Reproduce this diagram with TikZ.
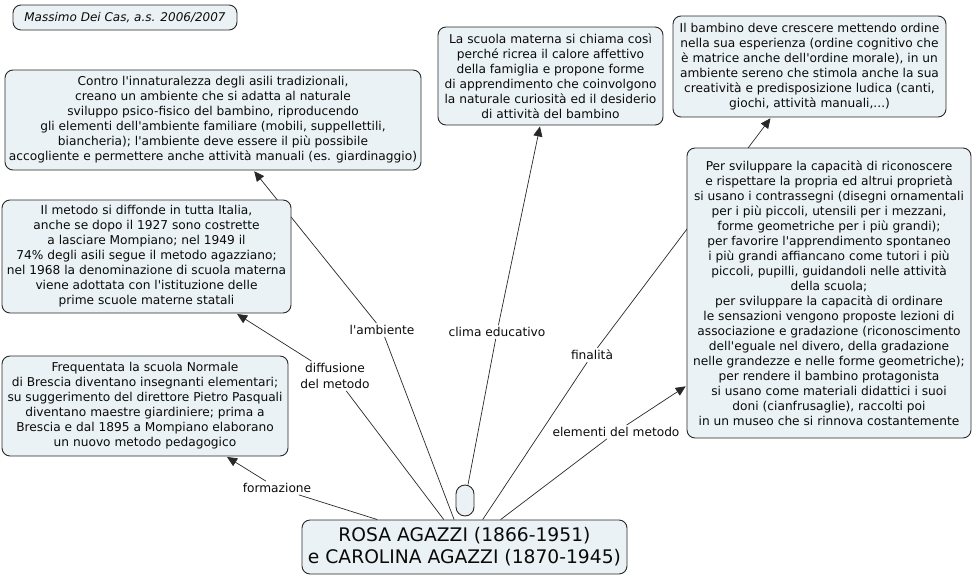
\documentclass[tikz,border=0pt]{standalone}
\usepackage{fontspec}
\setmainfont{DejaVu Sans}[Ligatures=TeXOff]
\usetikzlibrary{arrows.meta,backgrounds}
\definecolor{boxfill}{RGB}{235,242,245}
\definecolor{boxline}{RGB}{40,40,40}
\definecolor{txt}{RGB}{10,10,10}
\tikzset{
  concept/.style={draw=boxline, fill=boxfill, rounded corners=8pt, line width=0.9pt,
    align=center, text=txt, inner sep=2pt,
    font=\fontsize{12.2}{15}\selectfont},
  linklabel/.style={align=center, text=txt, inner sep=2pt,
    font=\fontsize{12.2}{16}\selectfont},
  conn/.style={draw=boxline, line width=0.7pt},
  arr/.style={conn, -{Triangle[length=10pt,width=9pt]}, shorten >=1pt},
}
\begin{document}
\begin{tikzpicture}[x=1pt,y=-1pt]
\useasboundingbox (0,0) rectangle (975,576);

% concepts
\node[concept, minimum width=224pt, minimum height=25pt, font=\fontsize{12}{14}\selectfont\itshape] (author) at (125,17.5) {Massimo Dei Cas, a.s. 2006/2007};

\node[concept, minimum width=416pt, minimum height=100pt] (amb) at (213,120) {Contro l'innaturalezza degli asili tradizionali,\\ creano un ambiente che si adatta al naturale\\ sviluppo psico-fisico del bambino, riproducendo\\ gli elementi dell'ambiente familiare (mobili, suppellettili,\\ biancheria); l'ambiente deve essere il più possibile\\ accogliente e permettere anche attività manuali (es. giardinaggio)};

\node[concept, minimum width=289pt, minimum height=113pt] (diff) at (146.5,256.5) {Il metodo si diffonde in tutta Italia,\\ anche se dopo il 1927 sono costrette\\ a lasciare Mompiano; nel 1949 il\\ 74\% degli asili segue il metodo agazziano;\\ nel 1968 la denominazione di scuola materna\\ viene adottata con l'istituzione delle\\ prime scuole materne statali};

\node[concept, minimum width=286pt, minimum height=100pt] (form) at (145,406) {Frequentata la scuola Normale\\ di Brescia diventano insegnanti elementari;\\ su suggerimento del direttore Pietro Pasquali\\ diventano maestre giardiniere; prima a\\ Brescia e dal 1895 a Mompiano elaborano\\ un nuovo metodo pedagogico};

\node[concept, minimum width=225pt, minimum height=98pt] (clima) at (550.5,76) {La scuola materna si chiama così\\ perché ricrea il calore affettivo\\ della famiglia e propone forme\\ di apprendimento che coinvolgono\\ la naturale curiosità ed il desiderio\\ di attività del bambino};

\node[concept, minimum width=273pt, minimum height=101pt] (fin) at (809.5,66.5) {Il bambino deve crescere mettendo ordine\\ nella sua esperienza (ordine cognitivo che\\ è matrice anche dell'ordine morale), in un\\ ambiente sereno che stimola anche la sua\\ creatività e predisposizione ludica (canti,\\ giochi, attività manuali,...)};

\node[concept, minimum width=284pt, minimum height=290pt] (elem) at (829,293) {Per sviluppare la capacità di riconoscere\\ e rispettare la propria ed altrui proprietà\\ si usano i contrassegni (disegni ornamentali\\ per i più piccoli, utensili per i mezzani,\\ forme geometriche per i più grandi);\\ per favorire l'apprendimento spontaneo\\ i più grandi affiancano come tutori i più\\ piccoli, pupilli, guidandoli nelle attività\\ della scuola;\\ per sviluppare la capacità di ordinare\\ le sensazioni vengono proposte lezioni di\\ associazione e gradazione (riconoscimento\\ dell'eguale nel divero, della gradazione\\ nelle grandezze e nelle forme geometriche);\\ per rendere il bambino protagonista\\ si usano come materiali didattici i suoi\\ doni (cianfrusaglie), raccolti poi\\ in un museo che si rinnova costantemente};

\node[concept, minimum width=325pt, minimum height=54pt, font=\fontsize{18.7}{22}\selectfont] (main) at (464.5,547) {ROSA AGAZZI (1866-1951)\\ e CAROLINA AGAZZI (1870-1945)};

\node[concept, rounded corners=9pt, minimum width=18pt, minimum height=31pt, inner sep=0pt] (pill) at (465,500.5) {};

% link labels
\node[linklabel] (lform) at (277,488) {formazione};
\node[linklabel] (ldiff) at (335,376) {diffusione\\ del metodo};
\node[linklabel] (lamb) at (382,330) {l'ambiente};
\node[linklabel] (lclima) at (497,332) {clima educativo};
\node[linklabel] (lfin) at (592,355) {finalità};
\node[linklabel] (lelem) at (616,432) {elementi del metodo};

% connectors (behind the boxes)
\begin{pgfonlayer}{background}
\draw[conn] (main) -- (lform);
\draw[arr] (lform) -- (form);
\draw[conn] (main) -- (ldiff);
\draw[arr] (ldiff) -- (diff);
\draw[conn] (main) -- (lamb);
\draw[arr] (lamb) -- (amb);
\draw[conn] (pill) -- (lclima);
\draw[arr] (lclima) -- (clima);
\draw[conn] (main) -- (lfin);
\draw[arr] (lfin) -- (fin);
\draw[conn] (main) -- (lelem);
\draw[arr] (lelem) -- (elem);
\end{pgfonlayer}
\end{tikzpicture}
\end{document}
